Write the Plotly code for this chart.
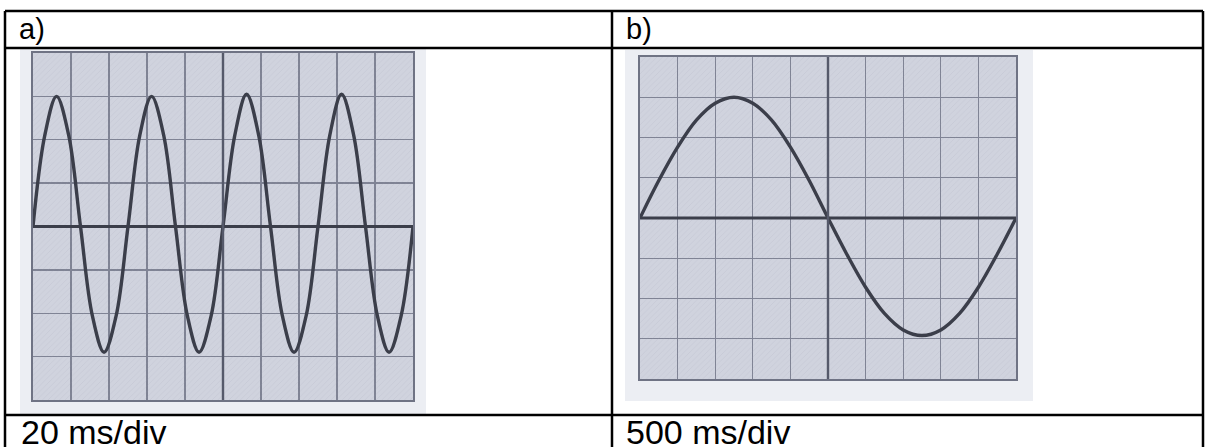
import plotly.graph_objects as go

W, H = 1206, 447

# ---- data (divisions) ----
# panel a) 20 ms/div : 4 periods over 10 div, amplitude ~3 div
a_x = [0.0, 0.31, 0.62, 0.94, 1.25, 1.56, 1.87, 2.19, 2.5, 2.81, 3.12, 3.44, 3.75, 4.06, 4.37, 4.69,
       5.0, 5.31, 5.62, 5.94, 6.25, 6.56, 6.87, 7.19, 7.5, 7.81, 8.12, 8.44, 8.75, 9.06, 9.37, 9.69, 10.0]
a_y = [0.0, 2.1, 3.0, 2.1, 0.0, -2.05, -2.9, -2.05, 0.0, 2.1, 3.0, 2.1, 0.0, -2.05, -2.9, -2.05,
       0.0, 2.1, 3.05, 2.1, 0.0, -2.05, -2.9, -2.05, 0.0, 2.1, 3.05, 2.1, 0.0, -2.05, -2.9, -2.05, 0.0]
# panel b) 500 ms/div : 1 period over 10 div, amplitude ~3 div
b_x = [0.0, 0.5, 1.0, 1.5, 2.0, 2.5, 3.0, 3.5, 4.0, 4.5, 5.0, 5.5, 6.0, 6.5, 7.0, 7.5, 8.0, 8.5, 9.0, 9.5, 10.0]
b_y = [0.0, 0.93, 1.76, 2.43, 2.85, 3.0, 2.85, 2.43, 1.76, 0.93, 0.0, -0.9, -1.72, -2.37, -2.78, -2.92,
       -2.78, -2.37, -1.72, -0.9, 0.0]

labels_top = ["a)", "b)"]
labels_bottom = ["20 ms/div", "500 ms/div"]

WAVE = "#3b3e4a"
GRID = "#7f8394"
SCREEN = "#d0d3de"
PHOTO = "#eceef3"

def px_x(p):
    return p / W

def px_y(p):
    return 1 - p / H

fig = go.Figure()
# faint diagonal hatch of the printed screen
for xr, yr in (("x", "y"), ("x2", "y2")):
    fig.add_trace(go.Bar(x=[5], y=[8], base=[-4], width=[10], xaxis=xr, yaxis=yr,
                         marker=dict(color="rgba(0,0,0,0)", line=dict(width=0),
                                     pattern=dict(shape="/", fgcolor="rgba(150,154,170,0.35)", size=4, solidity=0.2)),
                         showlegend=False, hoverinfo="skip"))
fig.add_trace(go.Scatter(x=a_x, y=a_y, mode="lines", line=dict(color=WAVE, width=3.4, shape="spline", smoothing=1.0),
                         xaxis="x", yaxis="y", showlegend=False, hoverinfo="skip"))
fig.add_trace(go.Scatter(x=b_x, y=b_y, mode="lines", line=dict(color=WAVE, width=3.4, shape="spline", smoothing=1.0),
                         xaxis="x2", yaxis="y2", showlegend=False, hoverinfo="skip"))

panels = [
    # (grid x0,x1,y0,y1), (photo x0,x1,y0,y1)
    ((33, 413, 53, 400), (20, 426, 49, 414)),
    ((640, 1016, 57, 379), (625, 1033, 50, 401)),
]

axcommon = dict(showticklabels=False, ticks="", showgrid=True, gridcolor=GRID, gridwidth=1.3,
                zeroline=False, showline=True, mirror=True, linecolor="#6f7384", linewidth=2, fixedrange=True)

layout = dict(width=W, height=H, margin=dict(l=0, r=0, t=0, b=0), paper_bgcolor="white",
              plot_bgcolor="rgba(0,0,0,0)", showlegend=False, bargap=0)
names = [("xaxis", "yaxis", "x", "y"), ("xaxis2", "yaxis2", "x2", "y2")]
shapes = []
for (g, ph), (xa, ya, xr, yr) in zip(panels, names):
    layout[xa] = dict(domain=[px_x(g[0]), px_x(g[1])], range=[0, 10], dtick=1, tick0=0, anchor=yr, **axcommon)
    layout[ya] = dict(domain=[px_y(g[3]), px_y(g[2])], range=[-4, 4], dtick=1, tick0=0, anchor=xr, **axcommon)
    shapes.append(dict(type="rect", xref="paper", yref="paper", x0=px_x(ph[0]), x1=px_x(ph[1]),
                       y0=px_y(ph[3]), y1=px_y(ph[2]), fillcolor=PHOTO, line=dict(width=0), layer="below"))
    shapes.append(dict(type="rect", xref="paper", yref="paper", x0=px_x(g[0]), x1=px_x(g[1]),
                       y0=px_y(g[3]), y1=px_y(g[2]), fillcolor=SCREEN, line=dict(width=0), layer="below"))
    # centre lines (thicker)
    shapes.append(dict(type="line", xref=xr, yref=yr, x0=0, x1=10, y0=0, y1=0,
                       line=dict(color=WAVE, width=3.2), layer="above"))
    shapes.append(dict(type="line", xref=xr, yref=yr, x0=5, x1=5, y0=-4, y1=4,
                       line=dict(color="#55596a", width=2.4), layer="above"))

# table borders
B = dict(color="black", width=2.5)
for yy in (11, 48, 415):
    shapes.append(dict(type="line", xref="paper", yref="paper", x0=px_x(5), x1=px_x(1203), y0=px_y(yy), y1=px_y(yy), line=B))
for xx in (5, 612, 1203):
    shapes.append(dict(type="line", xref="paper", yref="paper", x0=px_x(xx), x1=px_x(xx), y0=px_y(11), y1=0, line=B))
layout["shapes"] = shapes

font_top = dict(family="Liberation Sans, Arial, sans-serif", size=29, color="black")
font_bot = dict(family="Liberation Sans, Arial, sans-serif", size=34, color="black")
ann = []
for lab, xx in zip(labels_top, (17, 624)):
    ann.append(dict(text=lab, x=px_x(xx), y=px_y(29), xref="paper", yref="paper", xanchor="left", yanchor="middle",
                    showarrow=False, font=font_top))
for lab, xx in zip(labels_bottom, (19, 624)):
    ann.append(dict(text=lab, x=px_x(xx), y=px_y(432), xref="paper", yref="paper", xanchor="left", yanchor="middle",
                    showarrow=False, font=font_bot))
layout["annotations"] = ann

fig.update_layout(**layout)
fig.write_html("out.html", config={"displayModeBar": False, "staticPlot": True},
               post_script="document.body.style.margin='0';document.body.style.overflow='hidden';")
